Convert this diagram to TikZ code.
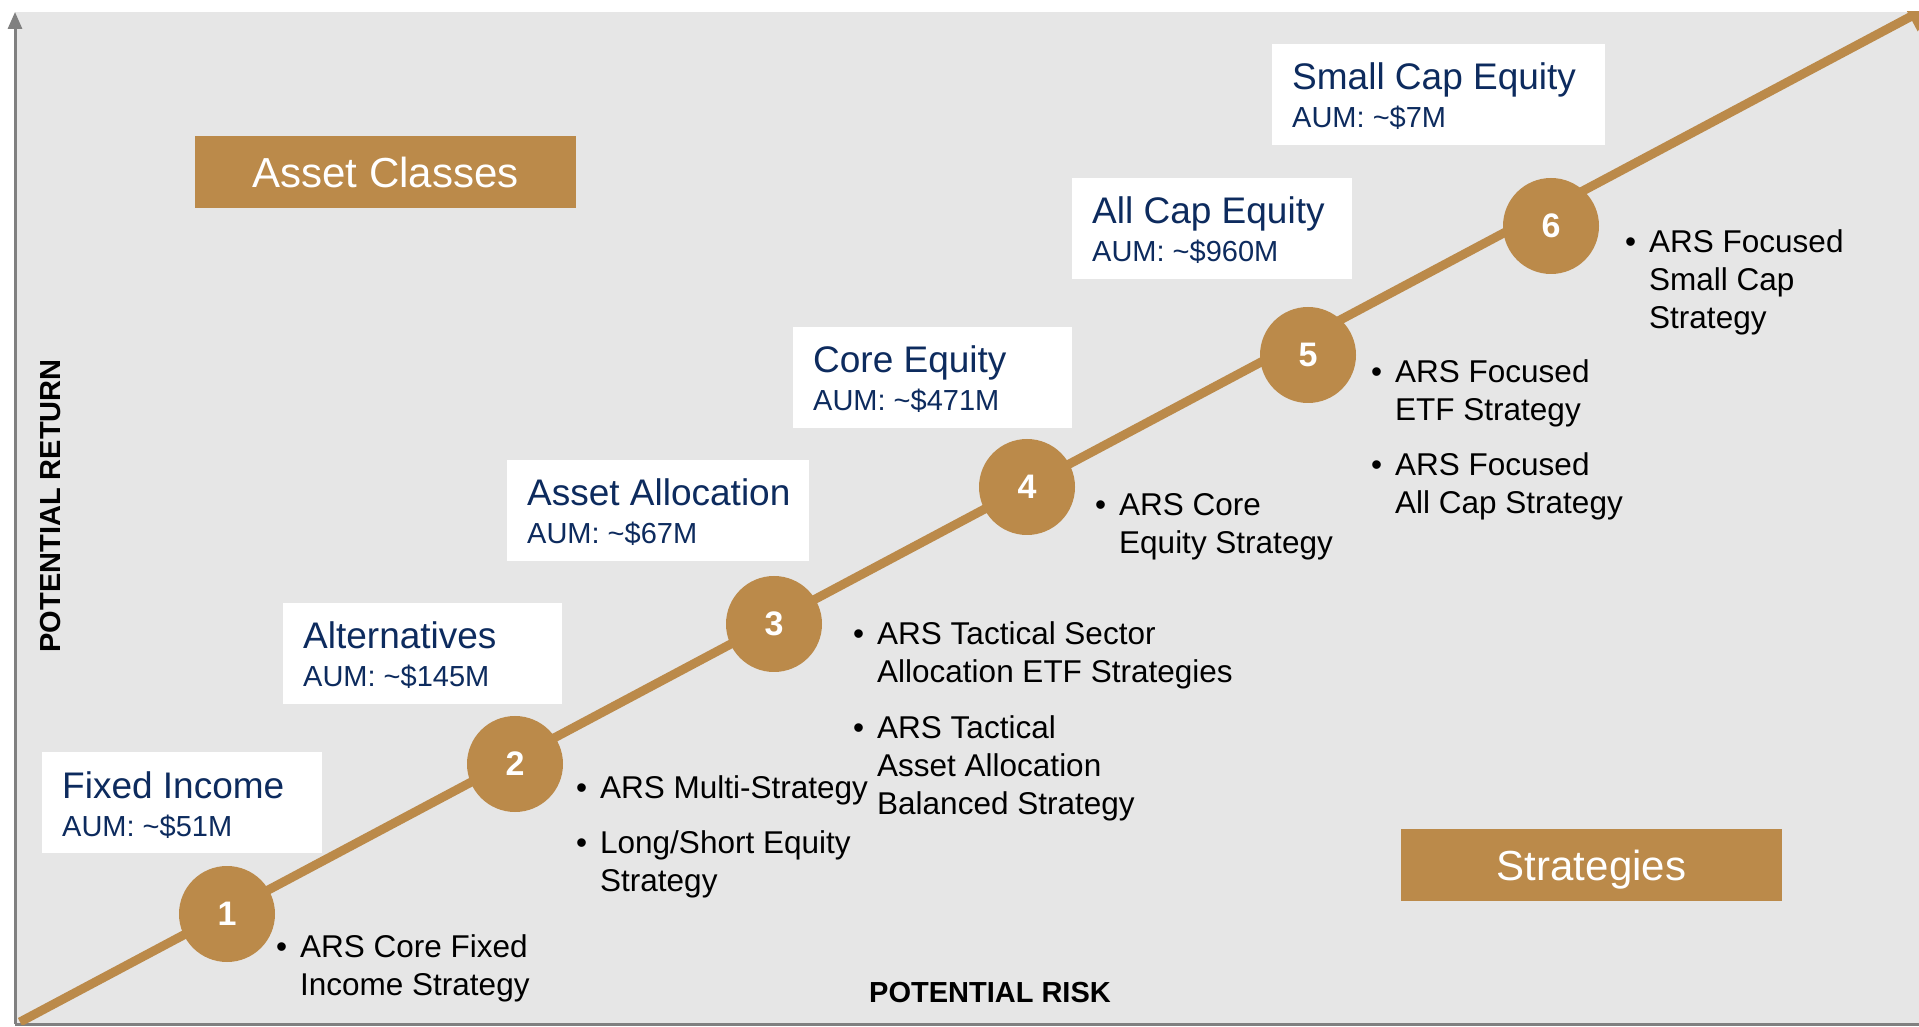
\documentclass[tikz,border=0pt]{standalone}
\usepackage{fontspec}
\setmainfont{Liberation Sans}
\usetikzlibrary{arrows.meta}

\definecolor{gold}{RGB}{187,138,74}
\definecolor{navy}{RGB}{13,43,94}
\definecolor{slidegray}{RGB}{230,230,230}
\definecolor{axisgray}{RGB}{128,128,128}

\newcommand{\bul}{\llap{\textbullet\hspace{13pt}}}

\begin{document}
\begin{tikzpicture}[x=1pt, y=1pt,
    classbox/.style={fill=white, anchor=north west, minimum height=101pt, inner sep=0pt},
    classname/.style={anchor=base west, inner sep=0pt, text=navy, font=\fontsize{37}{44}\selectfont},
    classaum/.style={anchor=base west, inner sep=0pt, text=navy, font=\fontsize{29}{35}\selectfont},
    stepnum/.style={circle, fill=gold, minimum size=96pt, inner sep=0pt, text=white, font=\bfseries\fontsize{34}{40}\selectfont},
    stratlist/.style={anchor=base west, align=left, inner sep=0pt, font=\fontsize{31.5}{38}\selectfont},
    banner/.style={fill=gold, text=white, minimum width=381pt, minimum height=72pt, text height=30pt, text depth=0pt, font=\fontsize{42}{50}\selectfont},
    axislabel/.style={anchor=base, inner sep=0pt, font=\bfseries\fontsize{29}{34}\selectfont}]
  \useasboundingbox (0,0) rectangle (1919,1026);

  % Hintergrund und Achsen
  \fill[slidegray] (15,2) rectangle (1919,1014);
  \coordinate (origin) at (15,2);
  \coordinate (ytop) at (15,1014);
  \coordinate (xend) at (1919,2);
  \draw[axisgray, line width=3pt, -{Triangle[length=17pt,width=14pt]}] (origin) -- (ytop);
  \draw[axisgray, line width=3pt] (origin) -- (xend);

  % Risiko-Rendite-Linie
  \coordinate (lowend) at (20,4);
  \coordinate (tip) at (1940,1025);
  \begin{scope}
    \clip (15,2) rectangle (1919,1014);
    \draw[gold, line width=9pt, -{Triangle[length=34pt,width=30pt]}] (lowend) -- (tip);
  \end{scope}

  % Ueberschriften
  \node[banner] (classes) at (385.5,853.5) {Asset Classes};
  \node[banner] (strategies) at (1591.5,161) {Strategies};

  % Anlageklassen
  \node[classbox, minimum width=280pt] (fixed) at (42,274) {};
  \node[classname] (fixedname) at ([xshift=20pt,yshift=-46pt]fixed.north west) {Fixed Income};
  \node[classaum] (fixedaum) at ([xshift=20pt,yshift=-84pt]fixed.north west) {AUM: \textasciitilde\$51M};

  \node[classbox, minimum width=279pt] (alt) at (283,423) {};
  \node[classname] (altname) at ([xshift=20pt,yshift=-46pt]alt.north west) {Alternatives};
  \node[classaum] (altaum) at ([xshift=20pt,yshift=-84pt]alt.north west) {AUM: \textasciitilde\$145M};

  \node[classbox, minimum width=302pt] (alloc) at (507,566) {};
  \node[classname] (allocname) at ([xshift=20pt,yshift=-46pt]alloc.north west) {Asset Allocation};
  \node[classaum] (allocaum) at ([xshift=20pt,yshift=-84pt]alloc.north west) {AUM: \textasciitilde\$67M};

  \node[classbox, minimum width=279pt] (core) at (793,699) {};
  \node[classname] (corename) at ([xshift=20pt,yshift=-46pt]core.north west) {Core Equity};
  \node[classaum] (coreaum) at ([xshift=20pt,yshift=-84pt]core.north west) {AUM: \textasciitilde\$471M};

  \node[classbox, minimum width=280pt] (allcap) at (1072,848) {};
  \node[classname] (allcapname) at ([xshift=20pt,yshift=-46pt]allcap.north west) {All Cap Equity};
  \node[classaum] (allcapaum) at ([xshift=20pt,yshift=-84pt]allcap.north west) {AUM: \textasciitilde\$960M};

  \node[classbox, minimum width=333pt] (smallcap) at (1272,982) {};
  \node[classname] (smallcapname) at ([xshift=20pt,yshift=-46pt]smallcap.north west) {Small Cap Equity};
  \node[classaum] (smallcapaum) at ([xshift=20pt,yshift=-84pt]smallcap.north west) {AUM: \textasciitilde\$7M};

  % Stufen
  \node[stepnum] (s1) at (227,112) {1};
  \node[stepnum] (s2) at (515,262) {2};
  \node[stepnum] (s3) at (774,402) {3};
  \node[stepnum] (s4) at (1027,539) {4};
  \node[stepnum] (s5) at (1308,671) {5};
  \node[stepnum] (s6) at (1551,800) {6};

  % Strategien (Anker auf der letzten Zeile)
  \node[stratlist] (list1) at (300,31) {\bul ARS Core Fixed\\Income Strategy};
  \node[stratlist] (list2) at (600,135) {\bul ARS Multi-Strategy\\[17pt]\bul Long/Short Equity\\Strategy};
  \node[stratlist] (list3) at (877,212) {\bul ARS Tactical Sector\\Allocation ETF Strategies\\[17pt]\bul ARS Tactical\\Asset Allocation\\Balanced Strategy};
  \node[stratlist] (list4) at (1119,472) {\bul ARS Core\\Equity Strategy};
  \node[stratlist] (list5) at (1395,512) {\bul ARS Focused\\ETF Strategy\\[17pt]\bul ARS Focused\\All Cap Strategy};
  \node[stratlist] (list6) at (1649,697) {\bul ARS Focused\\Small Cap\\Strategy};

  % Achsenbeschriftung
  \node[axislabel] (risk) at (990,24) {POTENTIAL RISK};
  \node[axislabel, rotate=90] (return) at (60,520) {POTENTIAL RETURN};
\end{tikzpicture}
\end{document}
